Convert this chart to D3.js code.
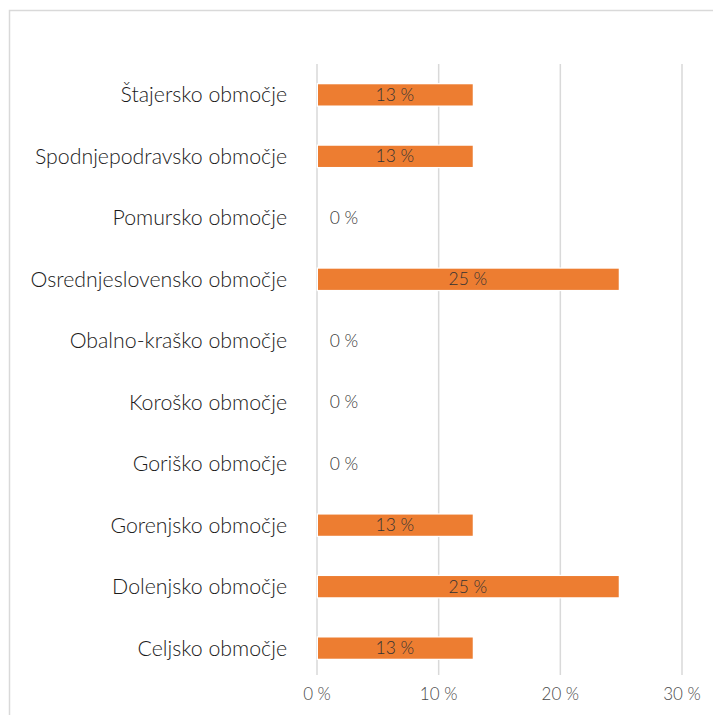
<!DOCTYPE html>
<meta charset="utf-8">
<script src="https://d3js.org/d3.v7.min.js"></script>
<style>
  body { margin: 0; background: #fff; }
  text { font-family: Lato, "Open Sans", sans-serif; font-weight: 300; }
</style>
<svg id="chart" width="713" height="715"></svg>
<script>

// data (top to bottom)
var regions = ["Štajersko območje", "Spodnjepodravsko območje", "Pomursko območje",
  "Osrednjeslovensko območje", "Obalno-kraško območje", "Koroško območje",
  "Goriško območje", "Gorenjsko območje", "Dolenjsko območje", "Celjsko območje"];
var shares = [12.8, 12.8, 0, 24.8, 0, 0, 0, 12.8, 24.8, 12.8];
var ticks = [0, 10, 20, 30];

var svg = d3.select("#chart"),
    width = +svg.attr("width"),
    height = +svg.attr("height");

// chart border
svg.append("rect")
    .attr("x", 9.5).attr("y", 10.5)
    .attr("width", 720).attr("height", 720)
    .attr("fill", "none")
    .attr("stroke", "#d9d9d9")
    .attr("stroke-width", 1.5);

var x = d3.scaleLinear().domain([0, 30]).range([317, 682]);
var y = d3.scaleBand().domain(regions).range([64, 679]).paddingInner(0.655).paddingOuter(0.33);

// gridlines
svg.append("g").selectAll("line")
  .data(ticks)
  .enter().append("line")
    .attr("x1", function(d){ return x(d) }).attr("x2", function(d){ return x(d) })
    .attr("y1", 64).attr("y2", 675)
    .style("stroke", "#d9d9d9")
    .style("stroke-width", 1.5);

// bars
svg.append("g").selectAll("rect")
  .data(regions)
  .enter().append("rect")
    .filter(function(d, i){ return shares[i] > 0 })
    .attr("x", x(0) + 1)
    .attr("y", function(d){ return y(d) })
    .attr("width", function(d){ return x(shares[regions.indexOf(d)]) - x(0) - 1 })
    .attr("height", y.bandwidth())
    .attr("fill", "#ed7d31")
    .style("stroke", "#fff")
    .style("stroke-width", 2.5)
    .style("paint-order", "stroke");

// data labels
svg.append("g").selectAll("text")
  .data(regions)
  .enter().append("text")
    .attr("x", function(d, i){ return shares[i] > 0 ? (x(0) + x(shares[i])) / 2 : x(0) + 27 })
    .attr("y", function(d){ return y(d) + y.bandwidth() / 2 })
    .attr("dy", "0.35em")
    .attr("text-anchor", "middle")
    .style("font-size", "17.5px")
    .style("fill", "#333")
    .text(function(d, i){ return Math.round(shares[i]) + " %" });

// category labels
svg.append("g").selectAll("text")
  .data(regions)
  .enter().append("text")
    .attr("x", 287)
    .attr("y", function(d){ return y(d) + y.bandwidth() / 2 })
    .attr("dy", "0.35em")
    .attr("text-anchor", "end")
    .style("font-size", "21.3px")
    .style("fill", "#1a1a1a")
    .text(function(d){ return d });

// x tick labels
svg.append("g").selectAll("text")
  .data(ticks)
  .enter().append("text")
    .attr("x", function(d){ return x(d) })
    .attr("y", 694)
    .attr("dy", "0.35em")
    .attr("text-anchor", "middle")
    .style("font-size", "17px")
    .style("fill", "#4a4a4a")
    .text(function(d){ return d + " %" });

</script>
